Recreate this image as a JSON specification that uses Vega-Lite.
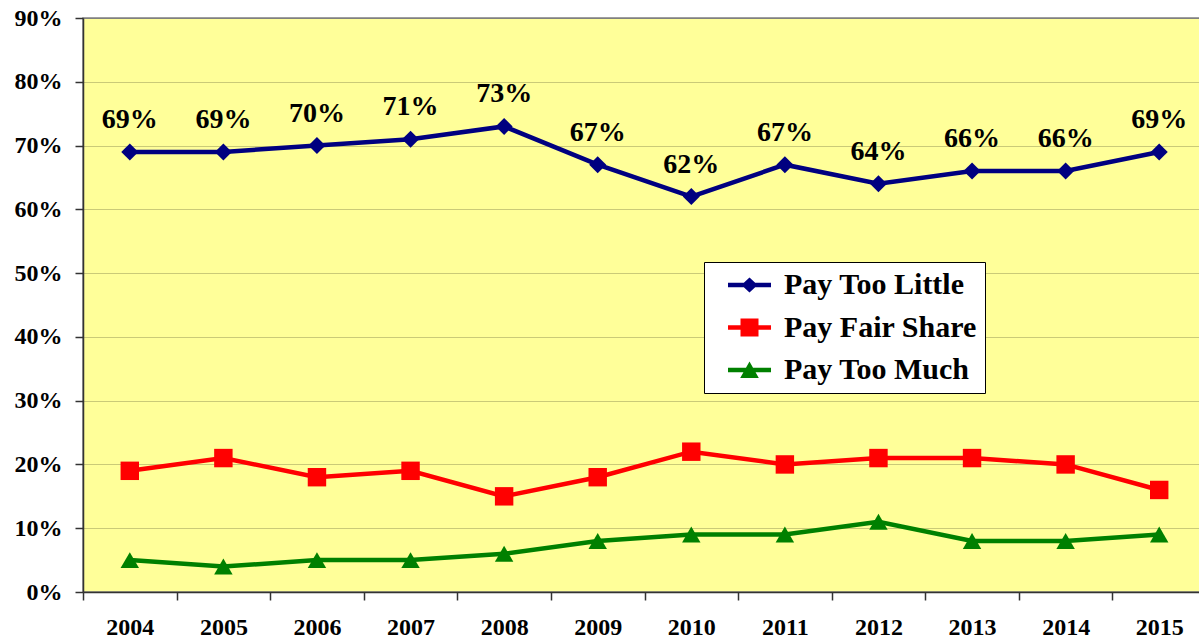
{
  "$schema": "https://vega.github.io/schema/vega-lite/v6.json",
  "autosize": {"type": "none"},
  "padding": {"left": 83, "top": 18, "right": 0, "bottom": 49},
  "width": 1123,
  "height": 574,
  "background": "white",
  "config": {
    "view": {"fill": "#FFFF99", "stroke": "#808080", "strokeWidth": 1.5},
    "font": "Liberation Serif"
  },
  "data": {
    "values": [
      {"year": "2004", "series": "Pay Too Little", "value": 0.69},
      {"year": "2005", "series": "Pay Too Little", "value": 0.69},
      {"year": "2006", "series": "Pay Too Little", "value": 0.70},
      {"year": "2007", "series": "Pay Too Little", "value": 0.71},
      {"year": "2008", "series": "Pay Too Little", "value": 0.73},
      {"year": "2009", "series": "Pay Too Little", "value": 0.67},
      {"year": "2010", "series": "Pay Too Little", "value": 0.62},
      {"year": "2011", "series": "Pay Too Little", "value": 0.67},
      {"year": "2012", "series": "Pay Too Little", "value": 0.64},
      {"year": "2013", "series": "Pay Too Little", "value": 0.66},
      {"year": "2014", "series": "Pay Too Little", "value": 0.66},
      {"year": "2015", "series": "Pay Too Little", "value": 0.69},
      {"year": "2004", "series": "Pay Fair Share", "value": 0.19},
      {"year": "2005", "series": "Pay Fair Share", "value": 0.21},
      {"year": "2006", "series": "Pay Fair Share", "value": 0.18},
      {"year": "2007", "series": "Pay Fair Share", "value": 0.19},
      {"year": "2008", "series": "Pay Fair Share", "value": 0.15},
      {"year": "2009", "series": "Pay Fair Share", "value": 0.18},
      {"year": "2010", "series": "Pay Fair Share", "value": 0.22},
      {"year": "2011", "series": "Pay Fair Share", "value": 0.20},
      {"year": "2012", "series": "Pay Fair Share", "value": 0.21},
      {"year": "2013", "series": "Pay Fair Share", "value": 0.21},
      {"year": "2014", "series": "Pay Fair Share", "value": 0.20},
      {"year": "2015", "series": "Pay Fair Share", "value": 0.16},
      {"year": "2004", "series": "Pay Too Much", "value": 0.05},
      {"year": "2005", "series": "Pay Too Much", "value": 0.04},
      {"year": "2006", "series": "Pay Too Much", "value": 0.05},
      {"year": "2007", "series": "Pay Too Much", "value": 0.05},
      {"year": "2008", "series": "Pay Too Much", "value": 0.06},
      {"year": "2009", "series": "Pay Too Much", "value": 0.08},
      {"year": "2010", "series": "Pay Too Much", "value": 0.09},
      {"year": "2011", "series": "Pay Too Much", "value": 0.09},
      {"year": "2012", "series": "Pay Too Much", "value": 0.11},
      {"year": "2013", "series": "Pay Too Much", "value": 0.08},
      {"year": "2014", "series": "Pay Too Much", "value": 0.08},
      {"year": "2015", "series": "Pay Too Much", "value": 0.09}
    ]
  },
  "encoding": {
    "x": {
      "field": "year", "type": "ordinal",
      "scale": {"type": "band", "paddingInner": 0, "paddingOuter": 0},
      "axis": {
        "title": null, "labelAngle": 0, "tickBand": "extent", "tickSize": 8,
        "tickColor": "#333333", "domainColor": "#333333", "domainWidth": 1.5, "tickWidth": 1.5,
        "labelFont": "Liberation Serif", "labelFontWeight": "bold", "labelFontSize": 24,
        "labelColor": "black", "labelPadding": 15, "grid": false
      }
    },
    "y": {
      "field": "value", "type": "quantitative",
      "scale": {"domain": [0, 0.9], "nice": false},
      "axis": {
        "title": null, "format": ".0%", "values": [0, 0.1, 0.2, 0.3, 0.4, 0.5, 0.6, 0.7, 0.8, 0.9],
        "tickSize": 8, "tickColor": "#333333", "domainColor": "#333333", "domainWidth": 1.5, "tickWidth": 1.5,
        "labelFont": "Liberation Serif", "labelFontWeight": "bold", "labelFontSize": 24,
        "labelColor": "black", "labelPadding": 13,
        "grid": true,
        "gridColor": {"condition": {"test": "datum.value >= 0.9", "value": "#808080"}, "value": "#CACA78"},
        "gridWidth": 1.2
      }
    },
    "color": {
      "field": "series", "type": "nominal",
      "scale": {"domain": ["Pay Too Little", "Pay Fair Share", "Pay Too Much"], "range": ["#000080", "#FF0000", "#008000"]},
      "legend": {
        "title": null, "orient": "none", "legendX": 621, "legendY": 244,
        "fillColor": "white", "strokeColor": "black", "padding": 8,
        "labelFont": "Liberation Serif", "labelFontWeight": "bold", "labelFontSize": 30, "labelColor": "black",
        "labelLimit": 400, "symbolSize": 576, "rowPadding": 12.5, "labelOffset": 42,
        "symbolStrokeWidth": 0, "symbolOpacity": 1
      }
    }
  },
  "layer": [
    {"mark": {"type": "line", "strokeWidth": 4.5}},
    {
      "transform": [{"filter": "datum.series === 'Pay Too Little'"}],
      "mark": {"type": "point", "filled": true, "opacity": 1, "shape": "diamond", "size": 290}
    },
    {
      "transform": [{"filter": "datum.series === 'Pay Fair Share'"}],
      "mark": {"type": "point", "filled": true, "opacity": 1, "shape": "square", "size": 340}
    },
    {
      "transform": [{"filter": "datum.series === 'Pay Too Much'"}],
      "mark": {"type": "point", "filled": true, "opacity": 1, "shape": "triangle-up", "size": 340}
    },
    {
      "mark": {"type": "point", "filled": true, "opacity": 0},
      "encoding": {
        "shape": {
          "field": "series", "type": "nominal",
          "scale": {
            "domain": ["Pay Too Little", "Pay Fair Share", "Pay Too Much"],
            "range": [
              "M0.084,-0.18H3.667V0.18H0.084Z M1.875,-0.62L2.55,0L1.875,0.62L1.2,0Z",
              "M0.084,-0.18H3.667V0.18H0.084Z M1.125,-0.75H2.625V0.75H1.125Z",
              "M0.084,-0.18H3.667V0.18H0.084Z M1.875,-0.7L2.65,0.667H1.1Z"
            ]
          },
          "legend": {
            "title": null, "orient": "none", "legendX": 621, "legendY": 244,
            "fillColor": "white", "strokeColor": "black", "padding": 8,
            "labelFont": "Liberation Serif", "labelFontWeight": "bold", "labelFontSize": 30, "labelColor": "black",
            "labelLimit": 400, "symbolSize": 576, "rowPadding": 12.5, "labelOffset": 42,
            "symbolStrokeWidth": 0, "symbolOpacity": 1
          }
        }
      }
    },
    {
      "transform": [{"filter": "datum.series === 'Pay Too Little'"}],
      "mark": {"type": "text", "font": "Liberation Serif", "fontWeight": "bold", "fontSize": 28, "baseline": "alphabetic", "dy": -24},
      "encoding": {
        "text": {"field": "value", "type": "quantitative", "format": ".0%"},
        "color": {"value": "black"}
      }
    }
  ]
}
